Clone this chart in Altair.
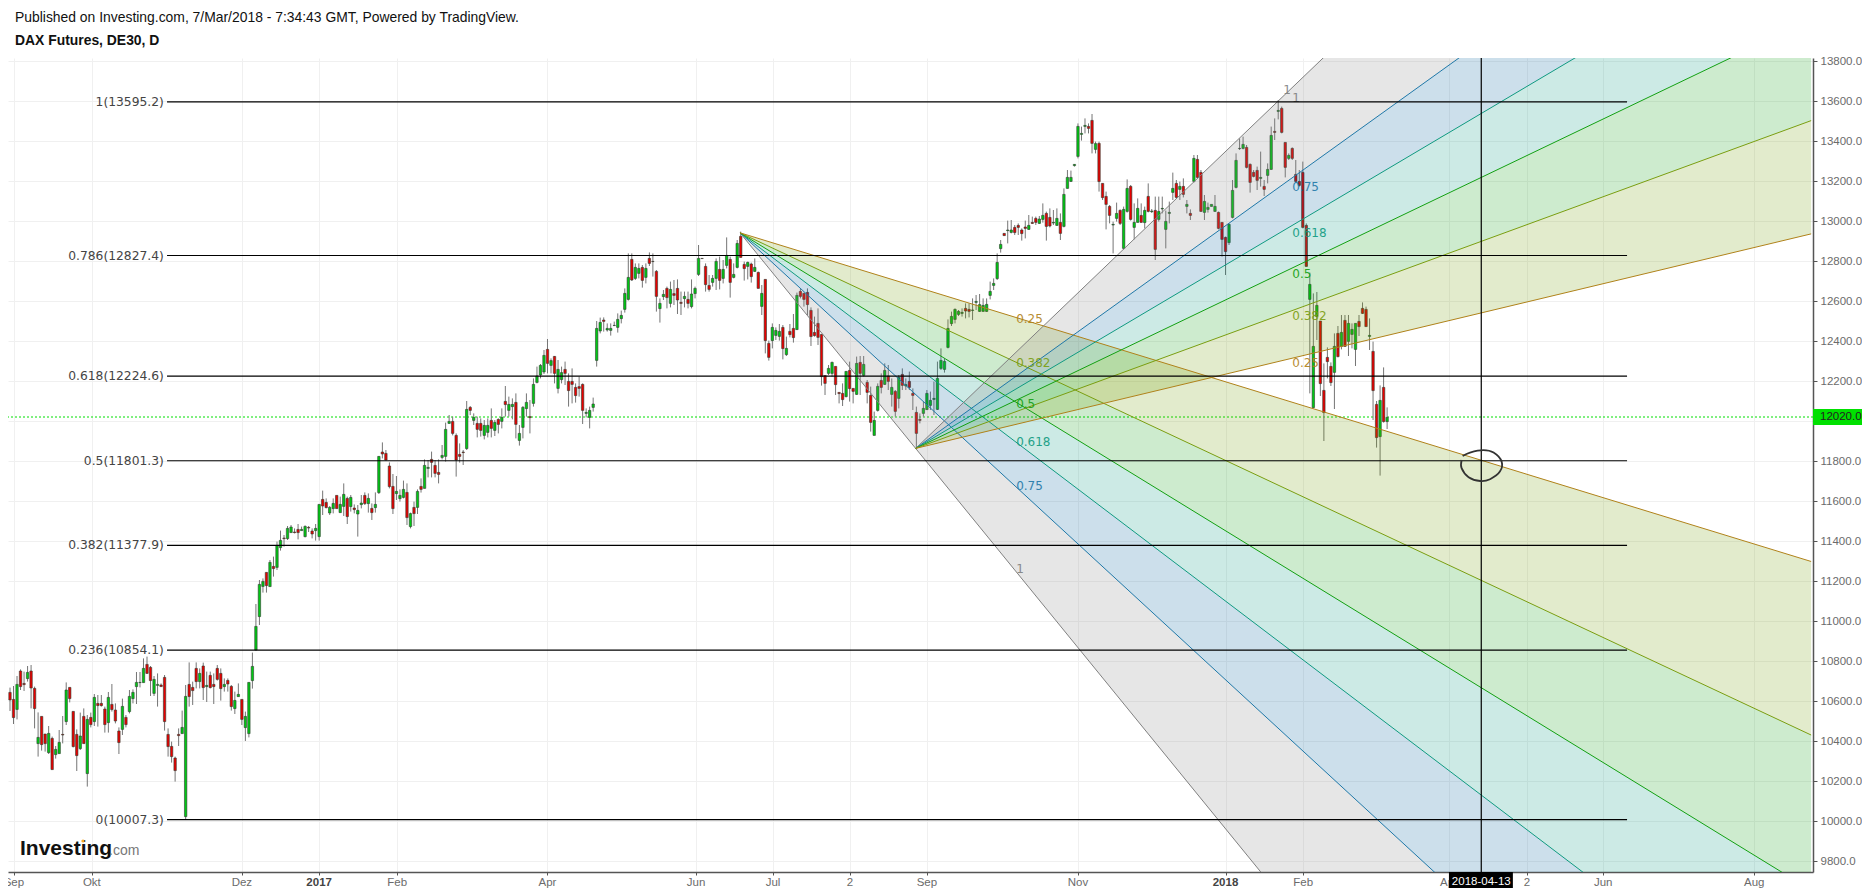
import altair as alt
import pandas as pd

# candles, one value per trading day (Sep 2016 - Mar 2018)
directions = (
    "RRGRRGRRGR" "RGRGGRGRRR" "GRGRGRRRGR" "RRGRGGGGGR" "RGGRRRRRRG"
    "GRRRGRGRRR" "RGRRGGRGGG" "GGGRGRGGRG" "GRRGGRRGGR" "RGGRGGRGRG"
    "GRGRGGRRRR" "GGGRGRGRGG" "RRRGGGRRRR" "GRGRRGGRGR" "GRGGRGGGRG"
    "GGGRGRGGRR" "RRRRGGGGGR" "GGGGGGGRGG" "RGRRRGGRGR" "RRGRGGGRRR"
    "GGRGGRGGRR" "GRGRGRRGGG" "RGRRGRRRRR" "RRRGGRRRGR" "RGRGRRGGRG"
    "RGRGRGRRRR" "GGGGGGGGGG" "GGRRGGGGGG" "GGGRGGRRRR" "GRRGGRRGGR"
    "GGGGGGGRRG" "RRRRGGRGGR" "GGRGRGRGGG" "GGRGRGRGRR" "GGGGRRRGGG"
    "GGRRRRGRGG" "RGRRGRRRRR" "GGGRRRRGRG" "RGGGRRRGRR" "GRG"
)
body_tops = [
    10643,10608,10683,10750,10688,10743,10750,10663,10418,10523,
    10435,10438,10413,10358,10393,10433,10655,10668,10548,10433,
    10425,10523,10508,10518,10618,10588,10588,10560,10618,10583,
    10555,10450,10573,10518,10623,10643,10693,10693,10763,10783,
    10768,10708,10683,10680,10718,10433,10373,10315,10433,10468,
    10623,10683,10668,10763,10738,10775,10678,10728,10683,10763,
    10738,10683,10703,10673,10603,10633,10608,10523,10693,10773,
    10973,11183,11198,11243,11293,11273,11378,11403,11415,11463,
    11470,11445,11458,11458,11473,11468,11450,11463,11583,11608,
    11593,11568,11588,11628,11583,11633,11613,11618,11565,11553,
    11590,11628,11613,11563,11583,11823,11845,11838,11775,11673,
    11648,11628,11658,11643,11537,11568,11648,11673,11778,11768,
    11808,11778,11743,11828,11958,11998,11998,11928,11833,11845,
    12058,12068,12018,11988,11988,11978,11978,12003,11993,12008,
    12018,12098,12083,12083,12093,11938,12068,12093,12022,12183,
    12225,12278,12328,12358,12302,12323,12258,12242,12258,12198,
    12198,12168,12172,12183,12043,12053,12085,12463,12493,12505,
    12463,12463,12478,12508,12528,12638,12718,12808,12768,12763,
    12768,12763,12813,12798,12748,12588,12633,12663,12658,12637,
    12663,12593,12623,12608,12635,12663,12813,12813,12773,12678,
    12713,12798,12758,12758,12828,12808,12733,12888,12923,12783,
    12793,12785,12768,12743,12638,12708,12388,12468,12453,12448,
    12468,12363,12448,12463,12628,12648,12638,12643,12553,12443,
    12488,12433,12227,12263,12293,12273,12143,12138,12248,12253,
    12163,12288,12293,12283,12193,12128,12003,12173,12203,12253,
    12225,12168,12148,12218,12233,12182,12198,12138,12043,12008,
    12063,12138,12103,12113,12213,12303,12298,12463,12523,12558,
    12548,12543,12563,12558,12555,12598,12582,12578,12583,12648,
    12688,12793,12883,12938,12955,12955,12968,12978,12955,12970,
    12978,12993,13013,13010,13028,13038,13018,12993,13013,12993,
    13133,13218,13218,13283,13473,13438,13478,13473,13503,13387,
    13388,13188,13123,13073,12983,13038,13053,13058,13163,13173,
    12993,13063,13028,13053,13123,13050,13053,13048,13063,12998,
    13043,13163,13188,13173,13173,13083,13038,13313,13308,13243,
    13098,13068,13083,13073,13043,12993,12918,12983,13153,13303,
    13363,13383,13368,13283,13243,13253,13218,13173,13258,13428,
    13448,13553,13563,13393,13328,13363,13233,13198,13243,12978,
    12683,12373,12578,12500,12153,12318,12273,12373,12438,12443,
    12503,12488,12458,12488,12498,12563,12558,12428,12348,12083,
    12103,12168,12018,
]
body_bottoms = [
    10605,10517,10558,10672,10682,10712,10665,10562,10387,10382,
    10387,10342,10257,10332,10337,10430,10497,10612,10372,10327,
    10362,10387,10237,10482,10497,10577,10577,10482,10492,10557,
    10500,10392,10458,10482,10547,10612,10672,10692,10692,10738,
    10702,10638,10678,10672,10497,10372,10322,10252,10427,10437,
    10022,10622,10652,10697,10697,10667,10672,10667,10672,10708,
    10662,10672,10685,10572,10562,10622,10508,10467,10437,10702,
    10855,11022,11173,11177,11172,11262,11268,11367,11412,11412,
    11442,11442,11442,11452,11422,11465,11435,11452,11422,11575,
    11567,11540,11562,11562,11542,11573,11522,11572,11557,11535,
    11582,11587,11587,11542,11567,11642,11835,11805,11672,11562,
    11637,11612,11618,11517,11472,11537,11568,11658,11663,11763,
    11793,11738,11733,11818,11823,11988,11938,11805,11823,11842,
    11862,12053,12003,11958,11953,11928,11943,11963,11953,11983,
    11998,12082,12053,12072,11983,11903,11968,12062,12017,12088,
    12193,12230,12245,12288,12278,12238,12163,12207,12238,12152,
    12183,12127,12163,12053,12038,12018,12068,12303,12450,12498,
    12455,12453,12477,12468,12512,12558,12608,12705,12713,12738,
    12703,12718,12788,12797,12623,12562,12622,12617,12588,12628,
    12605,12588,12612,12588,12572,12637,12733,12812,12682,12658,
    12693,12713,12703,12713,12778,12693,12718,12768,12818,12762,
    12773,12722,12748,12663,12573,12402,12318,12402,12428,12423,
    12362,12332,12432,12417,12457,12623,12608,12582,12422,12427,
    12418,12222,12188,12238,12238,12182,12137,12107,12122,12162,
    12148,12133,12238,12228,12143,11993,11928,12053,12168,12183,
    12198,12133,12048,12113,12178,12175,12168,12128,11938,12003,
    12038,12057,12078,12108,12058,12263,12258,12368,12487,12508,
    12533,12538,12550,12548,12553,12593,12548,12548,12548,12628,
    12678,12712,12862,12927,12952,12943,12942,12968,12937,12963,
    12958,12988,12993,12988,13008,12973,12975,12990,12978,12938,
    12973,13163,13198,13277,13323,13433,13473,13463,13388,13358,
    13197,13117,13083,13028,12980,13013,12988,12863,13048,13008,
    12968,12993,12993,12992,13048,13047,12858,13008,13060,12958,
    13038,13143,13118,13158,13133,13073,13028,13198,13218,13048,
    13043,13058,13073,13048,12963,12908,12847,12892,13018,13168,
    13362,13363,13268,13193,13223,13203,13213,13158,13228,13258,
    13443,13548,13443,13268,13313,13313,13198,13178,12968,12773,
    12608,12067,12522,12187,12042,12297,12192,12243,12322,12373,
    12373,12398,12433,12358,12472,12538,12472,12423,12152,11917,
    11922,11997,11997,
]
highs = [
    10667,10675,10725,10758,10747,10775,10780,10672,10543,10523,
    10435,10475,10422,10375,10455,10525,10693,10668,10548,10458,
    10542,10563,10530,10542,10635,10630,10630,10572,10645,10685,
    10588,10468,10612,10530,10655,10658,10745,10745,10813,10822,
    10775,10725,10738,10688,10730,10463,10397,10322,10463,10552,
    10680,10793,10697,10793,10763,10792,10747,10747,10738,10780,
    10763,10713,10713,10680,10647,10688,10608,10547,10693,10842,
    11085,11205,11213,11243,11305,11322,11397,11452,11430,11475,
    11480,11463,11485,11472,11478,11475,11463,11485,11583,11652,
    11613,11575,11613,11628,11622,11688,11622,11630,11583,11580,
    11630,11643,11638,11588,11643,11825,11893,11855,11793,11735,
    11725,11658,11702,11688,11542,11597,11658,11713,11808,11805,
    11847,11805,11808,11880,11992,12030,12022,11938,11888,11855,
    12100,12075,12038,12022,12013,12005,12013,12063,12005,12013,
    12063,12175,12122,12113,12138,11980,12075,12138,12105,12213,
    12272,12285,12355,12410,12313,12325,12305,12272,12297,12238,
    12263,12188,12222,12188,12063,12072,12117,12500,12517,12518,
    12488,12488,12497,12538,12552,12663,12838,12838,12788,12788,
    12780,12788,12843,12838,12755,12613,12655,12672,12697,12705,
    12708,12647,12647,12647,12708,12672,12880,12813,12788,12730,
    12730,12813,12822,12805,12918,12822,12788,12905,12947,12797,
    12797,12792,12813,12747,12680,12708,12402,12488,12468,12485,
    12480,12422,12485,12535,12642,12663,12642,12663,12568,12522,
    12563,12433,12227,12280,12297,12273,12143,12188,12248,12297,
    12163,12322,12325,12325,12205,12172,12047,12188,12238,12288,
    12280,12213,12155,12230,12263,12213,12247,12163,12072,12038,
    12097,12155,12147,12197,12297,12363,12313,12508,12547,12563,
    12555,12563,12588,12588,12613,12630,12635,12613,12613,12697,
    12713,12838,12905,12938,13002,13005,12980,12988,12963,13002,
    13030,13022,13022,13025,13088,13047,13063,13055,13063,13038,
    13163,13255,13252,13285,13488,13472,13513,13488,13535,13397,
    13397,13188,13147,13080,12997,13092,13058,13072,13208,13180,
    13088,13113,13088,13072,13188,13060,13122,13122,13122,13052,
    13097,13242,13205,13197,13213,13105,13058,13330,13330,13255,
    13130,13092,13083,13130,13047,12993,12922,12988,13205,13338,
    13413,13422,13380,13288,13255,13272,13347,13205,13288,13472,
    13513,13605,13572,13393,13338,13368,13305,13255,13297,12988,
    12742,12638,12645,12500,12288,12368,12293,12438,12475,12530,
    12530,12530,12488,12488,12530,12593,12572,12513,12397,12100,
    12178,12268,12068,
]
lows = [
    10550,10485,10508,10655,10650,10697,10563,10463,10322,10352,
    10347,10335,10257,10312,10337,10388,10480,10593,10368,10250,
    10355,10387,10172,10468,10475,10472,10572,10442,10442,10547,
    10488,10335,10430,10468,10538,10588,10585,10668,10692,10735,
    10625,10625,10572,10672,10452,10322,10292,10197,10375,10437,
    10010,10572,10580,10663,10663,10605,10595,10663,10585,10702,
    10602,10647,10647,10552,10535,10622,10480,10400,10418,10662,
    10852,10980,11142,11142,11172,11222,11255,11352,11372,11405,
    11442,11438,11408,11452,11418,11445,11413,11402,11402,11530,
    11563,11530,11538,11562,11542,11525,11485,11547,11538,11422,
    11563,11580,11542,11505,11542,11635,11813,11802,11663,11535,
    11605,11597,11613,11480,11463,11475,11535,11642,11663,11718,
    11718,11718,11688,11808,11797,11985,11928,11722,11792,11780,
    11855,12030,11980,11918,11922,11908,11918,11918,11925,11938,
    11963,12022,12022,12008,11913,11877,11913,12022,11938,12072,
    12188,12213,12235,12238,12238,12188,12138,12188,12180,12072,
    12088,12092,12122,11985,12018,11963,12047,12272,12438,12447,
    12447,12427,12475,12442,12488,12542,12602,12700,12705,12713,
    12667,12688,12775,12722,12547,12492,12605,12563,12568,12580,
    12535,12530,12568,12563,12563,12613,12725,12812,12647,12647,
    12672,12655,12658,12688,12763,12617,12713,12763,12817,12702,
    12708,12692,12745,12663,12530,12338,12302,12363,12405,12402,
    12308,12325,12418,12392,12455,12613,12572,12530,12375,12422,
    12380,12177,12130,12230,12222,12130,12088,12075,12118,12097,
    12088,12130,12130,12222,12088,11947,11928,12047,12138,12180,
    12155,12072,12022,12063,12155,12155,12155,12055,11863,11988,
    12022,12055,12055,12030,12055,12255,12242,12363,12475,12488,
    12525,12522,12513,12518,12505,12555,12545,12547,12545,12608,
    12655,12705,12842,12927,12888,12938,12930,12930,12902,12913,
    12955,12985,12980,12985,12992,12902,12968,12980,12975,12905,
    12968,13162,13195,13272,13313,13402,13438,13438,13338,13338,
    13147,13105,12958,12988,12838,12997,12980,12858,13042,13002,
    12908,12992,12992,12963,13043,13040,12805,12997,13038,12863,
    12988,13105,13113,13105,13118,13038,13005,13192,13213,13045,
    13005,13042,13072,13045,12958,12822,12730,12880,13013,13163,
    13355,13358,13263,13142,13218,13155,13172,13125,13188,13255,
    13405,13508,13438,13218,13305,13305,13192,13172,12963,12772,
    12138,12063,12405,12125,11900,12213,12175,12060,12318,12358,
    12372,12325,12363,12275,12425,12535,12472,12355,12005,11867,
    11727,11992,11960,
]

# x axis: positions in bars
tick_bars = [1.1, 23.3, 66, 88, 110.2, 153, 195.3, 217.2, 239.1, 261, 304, 346, 368.1, 409.6, 431.8, 453.5, 496.5]
tick_labels = ["Sep", "Okt", "Dez", "2017", "Feb", "Apr", "Jun", "Jul", "2", "Sep", "Nov", "2018", "Feb", "Apr", "2", "Jun", "Aug"]
price_ticks = list(range(9800, 13801, 200))

# fibonacci retracement
fib_ratios = ["1", "0.786", "0.618", "0.5", "0.382", "0.236", "0"]
fib_prices = [13595.2, 12827.4, 12224.6, 11801.3, 11377.9, 10854.1, 10007.3]

# fan anchors (bar, price) and the labels on their lines
fan_down = (207.8, 12941, 257.8, 11863)
fan_up = (257.8, 11863, 361.0, 13600)
fan_levels = ["1", "0.75", "0.618", "0.5", "0.382", "0.25"]
fan_lines = ["#808080", "#1f78a8", "#0f9a80", "#12a012", "#7a9e10", "#b0821a"]
fan_fills = ["#808080", "#005f9b", "#00967d", "#059b0a", "#6e9b00", "#b0821a"]
label_down_prices = [11260, 11675, 11895, 12085, 12290, 12510]
label_up_prices = [13615, 13172, 12942, 12735, 12525, 12292]

# pen circle drawn by the author round the target
circle_bars = [413.5, 415.6, 419.4, 422.3, 424.6, 424.1, 421.3, 418.5, 415.2, 413.2, 413.2]
circle_prices = [11825, 11842, 11854, 11842, 11797, 11747, 11709, 11700, 11719, 11764, 11805]

last_price = 12020
cross_bar = 418.8
right_bar = 512.7

df = pd.DataFrame({
    "bar": range(len(directions)),
    "dir": list(directions),
    "top": body_tops,
    "bottom": body_bottoms,
    "high": highs,
    "low": lows,
})

FONT = "Liberation Sans"

x_scale = alt.Scale(domain=[-0.57, 513.23], nice=False, zero=False, padding=0)
y_scale = alt.Scale(domain=[9745, 13815], nice=False, zero=False, padding=0)
x_axis = alt.Axis(
    values=tick_bars, labels=False, tickSize=3, tickColor="#555555", domainColor="#555555",
    domainWidth=1.5, gridColor="#f0f0f0", grid=True, orient="bottom", title=None,
)
# the 12000 label sits behind the green last-price tag
y_axis = alt.Axis(
    values=price_ticks, orient="right", tickSize=4, tickColor="#555555",
    labelExpr="datum.value == 12000 ? '' : format(datum.value, '.1f')",
    domainColor="#555555", domainWidth=1.5, gridColor="#f0f0f0", grid=True,
    labelColor="#6b6b6b", labelFont=FONT, labelFontSize=11.5, labelPadding=3, title=None,
)
X = alt.X("bar:Q", scale=x_scale, axis=x_axis)
Y = alt.Y("price:Q", scale=y_scale, axis=y_axis)

# fans: one band between each pair of neighbouring levels, one line per level
fan_rows, band_rows = [], []
for name, (b0, p0, b1, p1) in {"down": fan_down, "up": fan_up}.items():
    ends = [p0 + float(lv) * (p1 - p0) * (right_bar - b0) / (b1 - b0) for lv in fan_levels]
    for lv, end in zip(fan_levels, ends):
        fan_rows.append({"key": name + lv, "level": lv, "bar": b0, "price": p0})
        fan_rows.append({"key": name + lv, "level": lv, "bar": right_bar, "price": end})
    for i, lv in enumerate(fan_levels[:-1]):
        band_rows.append({"key": name + lv, "level": lv, "bar": b0, "price": p0, "price2": p0})
        band_rows.append({"key": name + lv, "level": lv, "bar": right_bar, "price": ends[i], "price2": ends[i + 1]})
fan_df = pd.DataFrame(fan_rows)
band_df = pd.DataFrame(band_rows)

price_line = (
    alt.Chart(pd.DataFrame({"price": [last_price]}))
    .mark_rule(color="#00e000", strokeWidth=1, strokeDash=[2, 2])
    .encode(y=Y)
)

wicks = alt.Chart(df).mark_rule(color="#757575", strokeWidth=1).encode(
    x=X,
    y=alt.Y("high:Q", scale=y_scale, axis=y_axis),
    y2="low:Q",
)
bodies = alt.Chart(df).mark_bar(size=2.4, stroke="#2f3a2f", strokeWidth=0.6).encode(
    x=X,
    y=alt.Y("top:Q", scale=y_scale, axis=y_axis),
    y2="bottom:Q",
    fill=alt.Fill("dir:N", scale=alt.Scale(domain=["G", "R"], range=["#00c814", "#e80000"]), legend=None),
)

bands = alt.Chart(band_df).mark_area(opacity=0.2, clip=True).encode(
    x=X,
    y=Y,
    y2="price2:Q",
    detail="key:N",
    fill=alt.Fill("level:N", scale=alt.Scale(domain=fan_levels, range=fan_fills), legend=None),
)
lines = alt.Chart(fan_df).mark_line(strokeWidth=1, clip=True).encode(
    x=X,
    y=Y,
    detail="key:N",
    order="bar:Q",
    color=alt.Color("level:N", scale=alt.Scale(domain=fan_levels, range=fan_lines), legend=None),
)

label_df = pd.DataFrame({
    "bar": [286.4] * 6 + [365.0] * 6 + [362.4],
    "price": label_down_prices + label_up_prices + [13655],
    "level": fan_levels + fan_levels + ["1"],
})
fan_text = alt.Chart(label_df).mark_text(
    align="left", baseline="middle", font="DejaVu Sans", fontSize=12, opacity=0.9
).encode(
    x=X,
    y=Y,
    text="level:N",
    color=alt.Color("level:N", scale=alt.Scale(domain=fan_levels, range=fan_lines), legend=None),
)

fib_df = pd.DataFrame({
    "bar": [44.7] * 7,
    "bar2": [460.3] * 7,
    "label_bar": [43.8] * 7,
    "price": fib_prices,
    "label": [f"{r}({p})" for r, p in zip(fib_ratios, fib_prices)],
})
fib_lines = alt.Chart(fib_df).mark_rule(color="#000000", strokeWidth=1.2).encode(x=X, x2="bar2:Q", y=Y)
fib_text = alt.Chart(fib_df).mark_text(
    align="right", baseline="middle", font="DejaVu Sans", fontSize=12.3, color="#444444"
).encode(
    x=alt.X("label_bar:Q", scale=x_scale, axis=x_axis),
    y=Y,
    text="label:N",
)

circle = alt.Chart(pd.DataFrame({
    "bar": circle_bars,
    "price": circle_prices,
    "n": list(range(len(circle_bars))),
})).mark_line(color="#333333", strokeWidth=1.8, interpolate="cardinal").encode(x=X, y=Y, order="n:Q")

cross = alt.Chart(pd.DataFrame({"bar": [cross_bar]})).mark_rule(color="#000000", strokeWidth=1.2).encode(x=X)

tick_df = pd.DataFrame({"bar": tick_bars, "label": tick_labels})
plain_ticks = tick_df[~tick_df["label"].isin(["2017", "2018"])]
year_ticks = tick_df[tick_df["label"].isin(["2017", "2018"])]
tick_text = alt.Chart(plain_ticks).mark_text(
    font=FONT, fontSize=11.5, baseline="middle", color="#6b6b6b"
).encode(x=X, y=alt.value(825), text="label:N")
year_text = alt.Chart(year_ticks).mark_text(
    font=FONT, fontSize=11.5, baseline="middle", color="#444444", fontWeight="bold"
).encode(x=X, y=alt.value(825), text="label:N")

date_box = alt.Chart(pd.DataFrame({"bar": [409.6], "bar2": [427.8]})).mark_rect(color="#000000").encode(
    x=X, x2="bar2:Q", y=alt.value(814), y2=alt.value(833)
)
date_text = alt.Chart(pd.DataFrame({"bar": [cross_bar], "t": ["2018-04-13"]})).mark_text(
    color="#ffffff", font=FONT, fontSize=11.5, baseline="middle"
).encode(x=X, y=alt.value(824), text="t:N")

price_box = alt.Chart(pd.DataFrame({"a": [0]})).mark_rect(color="#00e000").encode(
    x=alt.value(1805), x2=alt.value(1854), y=alt.value(351), y2=alt.value(367)
)
price_text = alt.Chart(pd.DataFrame({"t": ["12020.0"]})).mark_text(
    color="#222222", font=FONT, fontSize=11.5, baseline="middle", align="left"
).encode(x=alt.value(1812), y=alt.value(359), text="t:N")

def caption(text, x, y, **kw):
    return alt.Chart(pd.DataFrame({"t": [text]})).mark_text(
        align="left", baseline="middle", font=FONT, **kw
    ).encode(x=alt.value(x), y=alt.value(y), text="t:N")

published = caption("Published on Investing.com, 7/Mar/2018 - 7:34:43 GMT, Powered by TradingView.",
                    7, -40, fontSize=13.9, color="#111111")
symbol = caption("DAX Futures, DE30, D", 7, -17, fontSize=13.9, fontWeight="bold", color="#111111")
logo = caption("Investing", 12, 791, fontSize=21, fontWeight="bold", color="#111111")
logo_com = caption(".com", 101, 793, fontSize=14, color="#777777")
logo_dot = alt.Chart(pd.DataFrame({"a": [0]})).mark_point(filled=True, size=10, color="#f5a623", opacity=1).encode(
    x=alt.value(75), y=alt.value(783)
)

chart = alt.layer(
    price_line, wicks, bodies, bands, lines, fan_text, fib_lines, fib_text, cross, circle,
    tick_text, year_text, date_box, date_text, price_box, price_text, published, symbol, logo, logo_com, logo_dot,
).resolve_scale(color="independent", fill="independent").properties(
    width=1805,
    height=814,
    autosize=alt.AutoSizeParams(type="none"),
    padding={"left": 0, "top": 50, "right": 49, "bottom": 16},
    background="#ffffff",
).configure_view(strokeWidth=0)

chart.save("out.html", embed_options={"renderer": "svg", "actions": False})
